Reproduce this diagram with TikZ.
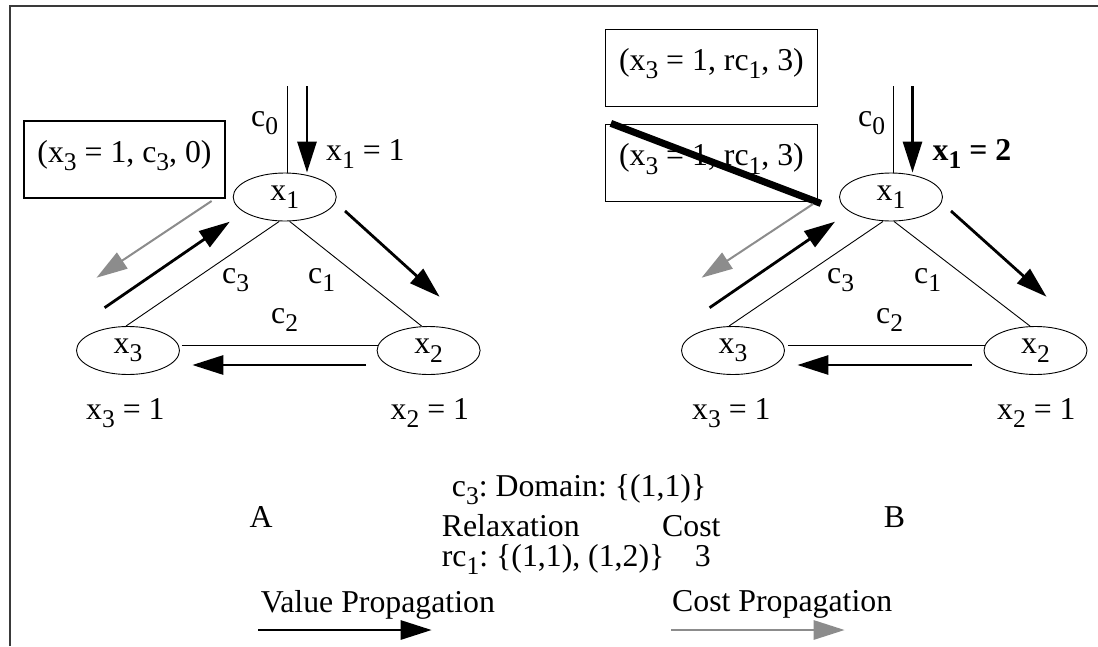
\documentclass[tikz,border=0pt]{standalone}
\usepackage{fontspec}
\setmainfont{Liberation Serif}
\usetikzlibrary{arrows.meta,shapes.geometric}
\newcommand{\mysub}[1]{\raisebox{-0.27em}{\fontsize{25.5}{25.5}\selectfont #1}}
\definecolor{framecol}{HTML}{3A3A3A}
\definecolor{costgray}{HTML}{8C8C8C}
\frenchspacing
\begin{document}
\begin{tikzpicture}[x=1pt,y=-1pt,
  every node/.style={font=\fontsize{31.8}{38}\selectfont\frenchspacing, inner sep=0pt},
  var/.style={draw, ellipse, minimum width=103pt, minimum height=48pt, line width=0.9pt},
  edge/.style={line width=0.9pt},
  valarrow/.style={line width=2.8pt, -{Triangle[length=31pt,width=19pt]}},
  costarrow/.style={line width=2pt, draw=costgray, -{Triangle[length=31pt,width=19pt]}},
  msgbox/.style={draw, line width=1.1pt, minimum height=77pt, text height=20pt, text depth=15pt},
  lbl/.style={anchor=base west}
]
\useasboundingbox (0,0) rectangle (1098,646);
% frame
\draw[framecol, line width=2pt] (10,646) -- (10,5.5) -- (1098,5.5);

% ---------------- Panel A ----------------
\node[var] (x1a) at (284.7,197) {x\mysub{1}};
\node[var] (x3a) at (128,350.5) {x\mysub{3}};
\node[var] (x2a) at (428.6,350.5) {x\mysub{2}};
\node[msgbox, minimum width=201pt] (boxa) at (124.5,159.5) {(x\mysub{3} = 1, c\mysub{3}, 0)};

\draw[edge] ([xshift=-5.5pt]x1a.south) -- ([xshift=-2pt]x3a.north);
\draw[edge] ([xshift=5pt]x1a.south) -- ([xshift=-7pt]x2a.north);
\draw[edge] ([xshift=2pt,yshift=5.2pt]x3a.east) -- ([xshift=1pt,yshift=5.2pt]x2a.west);

\coordinate (c0a) at (287.7,86);
\coordinate (v0a) at (307,86);
\draw[edge] (c0a) -- (c0a |- x1a.north);
\draw[valarrow] (v0a) -- (v0a |- x1a.north);

\coordinate (ga1) at (211.6,201);
\coordinate (ga2) at (96.5,277.7);
\draw[costarrow] (ga1) -- (ga2);
\coordinate (ua1) at (104.6,307.7);
\coordinate (ua2) at (229.8,221.7);
\draw[valarrow] (ua1) -- (ua2);
\coordinate (ra1) at (345,211);
\coordinate (ra2) at (439.6,296.7);
\draw[valarrow] (ra1) -- (ra2);
\coordinate (ba1) at (366,365);
\coordinate (ba2) at (192.3,365);
\draw[valarrow] (ba1) -- (ba2);

\node[lbl] (lc0a) at (251,126) {c\mysub{0}};
\node[lbl] (lx1a) at (326,160) {x\mysub{1} = 1};
\node[lbl] (lc3a) at (222,283) {c\mysub{3}};
\node[lbl] (lc1a) at (308,283) {c\mysub{1}};
\node[lbl] (lc2a) at (271,323) {c\mysub{2}};
\node[lbl] (lx3a) at (86,419) {x\mysub{3} = 1};
\node[lbl] (lx2a) at (390.5,419) {x\mysub{2} = 1};
\node[anchor=base] (la) at (261,527) {A};

% ---------------- Panel B ----------------
\node[var] (x1b) at (891,197) {x\mysub{1}};
\node[var] (x3b) at (733,350.5) {x\mysub{3}};
\node[var] (x2b) at (1035.5,350.5) {x\mysub{2}};
\node[msgbox, minimum width=212pt] (box1b) at (711.4,67.6) {(x\mysub{3} = 1, rc\mysub{1}, 3)};
\node[msgbox, minimum width=212pt] (box2b) at (711.4,163.4) {(x\mysub{3} = 1, rc\mysub{1}, 3)};
\draw[line width=7pt] ([xshift=6pt,yshift=1pt]box2b.north west) -- ([xshift=3pt,yshift=-1pt]box2b.south east);

\draw[edge] ([xshift=-8pt]x1b.south) -- ([xshift=-4pt]x3b.north);
\draw[edge] ([xshift=3pt]x1b.south) -- ([xshift=-5.5pt]x2b.north);
\draw[edge] ([xshift=3pt,yshift=5.2pt]x3b.east) -- ([xshift=1pt,yshift=5.2pt]x2b.west);

\coordinate (c0b) at (893,86);
\coordinate (v0b) at (912.5,86);
\draw[edge] (c0b) -- (c0b |- x1b.north);
\draw[valarrow] (v0b) -- (v0b |- x1b.north);

\coordinate (gb1) at (813,204);
\coordinate (gb2) at (701.6,277.7);
\draw[costarrow] (gb1) -- (gb2);
\coordinate (ub1) at (709.6,307.7);
\coordinate (ub2) at (835,221.7);
\draw[valarrow] (ub1) -- (ub2);
\coordinate (rb1) at (951,211);
\coordinate (rb2) at (1046.5,296.7);
\draw[valarrow] (rb1) -- (rb2);
\coordinate (bb1) at (972,365);
\coordinate (bb2) at (797.4,365);
\draw[valarrow] (bb1) -- (bb2);

\node[lbl] (lc0b) at (858,126) {c\mysub{0}};
\node[lbl] (lx1b) at (932.5,160) {\bfseries x\mysub{1} = 2};
\node[lbl] (lc3b) at (827,283) {c\mysub{3}};
\node[lbl] (lc1b) at (914,283) {c\mysub{1}};
\node[lbl] (lc2b) at (876,323) {c\mysub{2}};
\node[lbl] (lx3b) at (692,419) {x\mysub{3} = 1};
\node[lbl] (lx2b) at (997,419) {x\mysub{2} = 1};
\node[anchor=base] (lb) at (894.5,527) {B};

% ---------------- middle text ----------------
\node[lbl] (dom) at (451.7,496) {c\mysub{3}: Domain: \{(1,1)\}};
\node[lbl] (relax) at (441.7,536) {Relaxation};
\node[lbl] (cost) at (662,536) {Cost};
\node[lbl] (rc) at (441.7,566) {rc\mysub{1}: \{(1,1), (1,2)\}};
\node[lbl] (three) at (694.6,566) {3};

% ---------------- legend ----------------
\node[lbl] (vp) at (260.7,612) {Value Propagation};
\node[lbl] (cp) at (672,611) {Cost Propagation};
\coordinate (vl1) at (258,630);
\coordinate (vl2) at (431.7,630);
\draw[valarrow] (vl1) -- (vl2);
\coordinate (cl1) at (671,630);
\coordinate (cl2) at (844.7,630);
\draw[costarrow, line width=2.8pt] (cl1) -- (cl2);
\end{tikzpicture}
\end{document}
